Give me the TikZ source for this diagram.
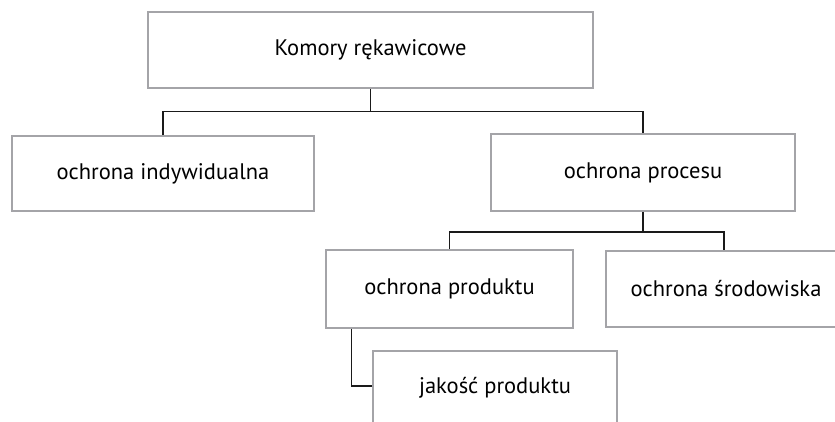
\documentclass[tikz,border=0pt]{standalone}
\usepackage{fontspec}
\setmainfont{PT Sans}
\usepackage{xcolor}
\definecolor{boxgray}{HTML}{A4A4A8}
\definecolor{linkblack}{HTML}{1A1A1A}
\usetikzlibrary{calc}

\begin{document}
\begin{tikzpicture}[
    x=1pt, y=-1pt,
    font=\fontsize{22.5}{26}\selectfont,
    box/.style={draw=boxgray, line width=1.8pt, fill=white, align=center, inner sep=0pt},
    link/.style={draw=linkblack, line width=1.2pt},
]
\useasboundingbox (0,0) rectangle (835,422);

\node[box, minimum width=445pt, minimum height=76pt] (glove) at (370.5, 50) {Komory rękawicowe};
\node[box, minimum width=302pt, minimum height=75pt] (indiv) at (163, 173.5) {ochrona indywidualna};
\node[box, minimum width=304pt, minimum height=77pt] (proc) at (643, 172.5) {ochrona procesu};
\node[box, minimum width=247pt, minimum height=78pt] (prod) at (449.5, 289) {ochrona produktu};
\node[box, minimum width=240pt, minimum height=76pt] (env) at (726, 289) {ochrona środowiska};
\node[box, minimum width=244pt, minimum height=74pt] (qual) at (495, 388) {jakość produktu};

\draw[link] (glove.south) -- ++(0,23) -| (indiv.north);
\draw[link] (glove.south) ++(0,23) -| (proc.north);
\draw[link] (proc.south) -- ++(0,20) -| (prod.north);
\draw[link] (proc.south) ++(0,20) -| ([xshift=-2pt]env.north);
\draw[link] ([xshift=26pt]prod.south west) |- ([yshift=2pt]qual.west);
\end{tikzpicture}
\end{document}
